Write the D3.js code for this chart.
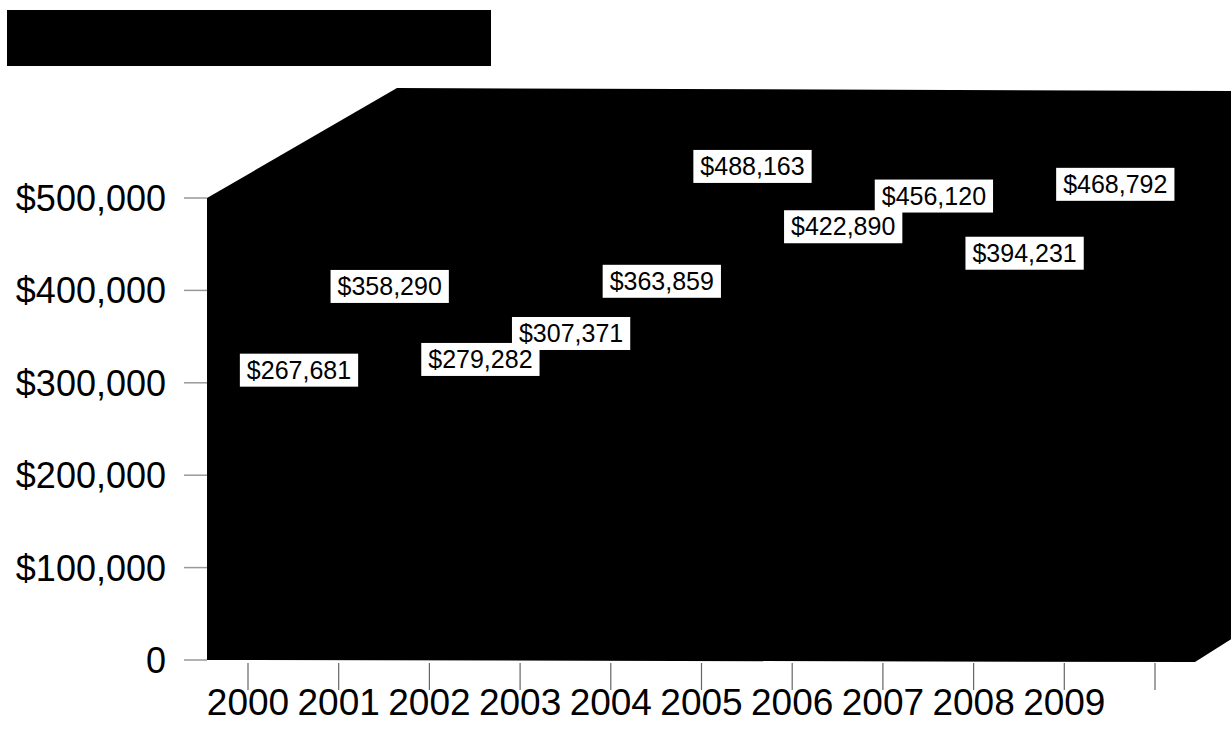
<!DOCTYPE html>
<html>
<head>
<meta charset="utf-8">
<script src="https://cdn.jsdelivr.net/npm/d3@7"></script>
<style>
  html, body { margin: 0; padding: 0; background: #fff; }
  svg { display: block; font-family: Arial, "Liberation Sans", sans-serif; }
</style>
</head>
<body>
<div id="chart"></div>
<script>
var years  = ['2000', '2001', '2002', '2003', '2004', '2005', '2006', '2007', '2008', '2009'];
var values = [267681, 358290, 279282, 307371, 363859, 488163, 422890, 456120, 394231, 468792];
var yTicks = [0, 100000, 200000, 300000, 400000, 500000];

var W = 1231, H = 732;
var svg = d3.select('#chart').append('svg')
  .attr('width', W).attr('height', H);

// scales
var y = d3.scaleLinear().domain([0, 500000]).range([660, 198]);
var xTick = d3.scaleLinear().domain([0, years.length]).range([248, 1155]);
var DX = 190, DY = -110;        // 3d depth offset
var frontLeft = 207, frontRight = 1195;

// redacted title block
svg.append('rect')
  .attr('x', 7).attr('y', 10).attr('width', 484).attr('height', 56)
  .attr('fill', '#000');

// 3d plot box (walls + floor), all black
var boxTop = y(500000), boxBot = y(0);
var box = [
  [frontLeft, boxBot],
  [frontLeft, boxTop],
  [frontLeft + DX, boxTop + DY],
  [W, boxTop + DY + 3],
  [W, boxBot - (W - frontRight) * (-DY / DX)],
  [frontRight, boxBot + 2]
];
svg.append('path')
  .attr('d', d3.line()(box) + 'Z')
  .attr('fill', '#000');

// y axis ticks and labels
var yAxis = svg.append('g');
yAxis.selectAll('line').data(yTicks).join('line')
  .attr('x1', 184).attr('x2', frontLeft)
  .attr('y1', function(d) { return y(d); })
  .attr('y2', function(d) { return y(d); })
  .attr('stroke', '#999').attr('stroke-width', 1.5);
yAxis.selectAll('text').data(yTicks).join('text')
  .attr('x', 166)
  .attr('y', function(d) { return y(d); })
  .attr('dy', '0.36em')
  .attr('text-anchor', 'end')
  .attr('font-size', 36)
  .text(function(d) { return d === 0 ? '0' : '$' + d3.format(',')(d); });

// x axis ticks and labels
var xAxis = svg.append('g');
xAxis.selectAll('line').data(d3.range(years.length + 1)).join('line')
  .attr('x1', function(d) { return xTick(d); })
  .attr('x2', function(d) { return xTick(d); })
  .attr('y1', 663).attr('y2', 690)
  .attr('stroke', '#666').attr('stroke-width', 1.2);
xAxis.selectAll('text').data(years).join('text')
  .attr('x', function(d, i) { return xTick(i); })
  .attr('y', 715)
  .attr('text-anchor', 'middle')
  .attr('font-size', 37)
  .text(function(d) { return d; });

// data labels in white boxes
var labels = svg.append('g').selectAll('g').data(values).join('g')
  .attr('transform', function(d, i) {
    return 'translate(' + (xTick(i) + 51) + ',' + (y(d) - 43) + ')';
  });
labels.append('rect').attr('fill', '#fff');
labels.append('text')
  .attr('text-anchor', 'middle')
  .attr('dy', '0.36em')
  .attr('font-size', 25)
  .text(function(d) { return '$' + d3.format(',')(d); });
labels.each(function() {
  var g = d3.select(this);
  var bb = g.select('text').node().getBBox();
  g.select('rect')
    .attr('x', bb.x - 7).attr('y', bb.y - 2)
    .attr('width', bb.width + 14).attr('height', bb.height + 5);
});
</script>
</body>
</html>
